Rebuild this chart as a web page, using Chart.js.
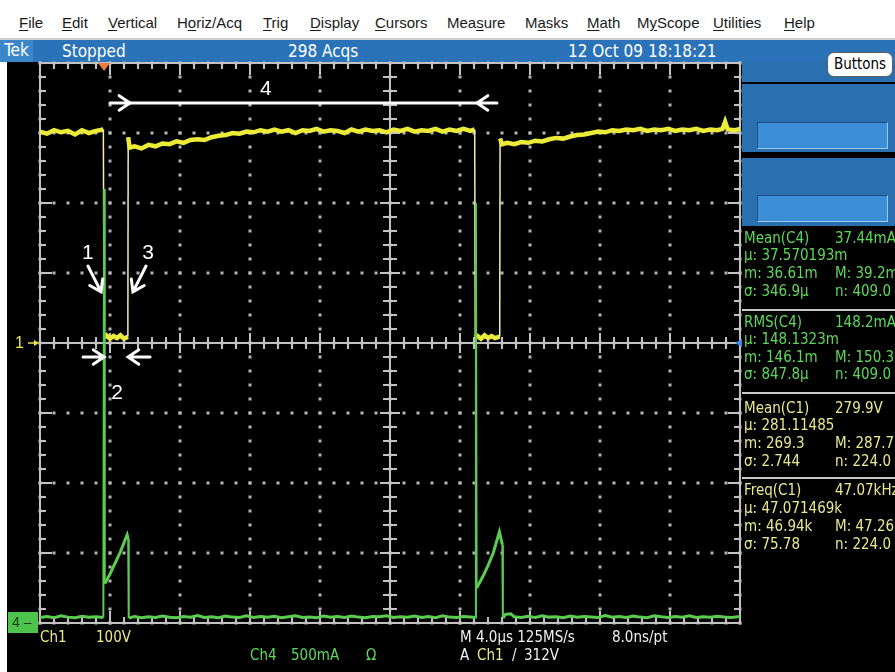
<!DOCTYPE html>
<html>
<head>
<meta charset="utf-8">
<title>Tek scope capture</title>
<script src="https://cdn.jsdelivr.net/npm/chart.js@4.4.1/dist/chart.umd.min.js"></script>
<style>
  body { margin: 0; background: #fff; }
  #scope { position: relative; width: 895px; height: 672px; overflow: hidden; background: #fff;
    font-family: "Liberation Sans Narrow", "DejaVu Sans Condensed", "Liberation Sans", sans-serif; }
  #menu { position: absolute; left: 0; top: 0; width: 895px; height: 38px; background: #fff; border-bottom: 2px solid #cfcfcf; }
  #menu span { position: absolute; top: 14px; font: 15px "Liberation Sans", Arial, sans-serif; color: #1a1a1a; white-space: nowrap; }
  #menu u { text-decoration: underline; text-underline-offset: 2px; }
  #status { position: absolute; left: 0; top: 40px; width: 895px; height: 22px; background: #2b73b8; }
  #status span { position: absolute; top: 1px; color: #fff; font-size: 17px; white-space: nowrap; }
  #status .tek { left: 0; top: 0; width: 33px; height: 22px; line-height: 21px; text-align: center; background: #3b86c8; }
  #buttons { position: absolute; left: 827px; top: 52px; width: 64px; height: 23px; background: #fff; border-radius: 7px;
    border: 1px solid #606060; font-size: 15px; text-align: center; line-height: 23px; color: #000; z-index: 4; }
  #screen { position: absolute; left: 7px; top: 62px; width: 735px; height: 610px; background: #000; }
  #panel { position: absolute; left: 742px; top: 62px; width: 153px; height: 610px; background: #000; }
  .pblue { position: absolute; left: 0; width: 153px; background: #2a6fb0; }
  .pinner { position: absolute; left: 15px; width: 129px; height: 25px; background: #3c8fd6;
    border-top: 1px solid #1c4f80; border-left: 1px solid #1c4f80; border-right: 1px solid #9fcbf0; border-bottom: 1px solid #9fcbf0; }
  .sep { position: absolute; left: 0; width: 153px; height: 2px; background: #c8c8c8; }
  #chart { position: absolute; left: 0; top: 0; z-index: 2; }
  .txt { position: absolute; z-index: 3; font-size: 15px; line-height: 18px; white-space: nowrap; }
  .g { color: #5ed85a; }
  .y { color: #e8e890; }
  .w { color: #f0f0f0; }
  .note { position: absolute; z-index: 3; transform: translate(-50%, -50%); color: #fff; font: 21px "Liberation Sans", Arial, sans-serif; }
  .ch1mark { position: absolute; z-index: 3; transform: translateY(-50%); color: #e8e840; font: 16px "Liberation Sans", Arial, sans-serif; }
  .ch4mark { position: absolute; z-index: 3; width: 30px; height: 21px; background: #4cc44c; color: #1d3d1d;
    font: 14px "Liberation Sans", Arial, sans-serif; line-height: 21px; padding-left: 4px; box-sizing: border-box; }
</style>
</head>
<body>
<div id="scope">
  <div id="menu">
    <span style="left:19px"><u>F</u>ile</span>
    <span style="left:62px"><u>E</u>dit</span>
    <span style="left:108px"><u>V</u>ertical</span>
    <span style="left:177px">H<u>o</u>riz/Acq</span>
    <span style="left:263px"><u>T</u>rig</span>
    <span style="left:310px"><u>D</u>isplay</span>
    <span style="left:375px"><u>C</u>ursors</span>
    <span style="left:447px">Mea<u>s</u>ure</span>
    <span style="left:525px">M<u>a</u>sks</span>
    <span style="left:587px"><u>M</u>ath</span>
    <span style="left:637px">M<u>y</u>Scope</span>
    <span style="left:713px"><u>U</u>tilities</span>
    <span style="left:784px"><u>H</u>elp</span>
  </div>
  <div id="status">
    <span class="tek">Tek</span>
    <span style="left:62px">Stopped</span>
    <span style="left:288px">298 Acqs</span>
    <span style="left:568px">12 Oct 09 18:18:21</span>
  </div>
  <div id="buttons">Buttons</div>
  <div id="screen"></div>
  <div id="panel">
    <div class="pblue" style="top:0;height:20px"></div>
    <div class="pblue" style="top:22px;height:68px"><div class="pinner" style="top:38px"></div></div>
    <div class="pblue" style="top:96px;height:68px"><div class="pinner" style="top:37px"></div></div>
    <div class="sep" style="top:247px"></div>
    <div class="sep" style="top:330px"></div>
    <div class="sep" style="top:415px"></div>
  </div>
  <canvas id="chart" width="895" height="672"></canvas>

  <div class="txt g" style="left:744px;top:229px">Mean(C4)</div><div class="txt g" style="left:835px;top:229px">37.44mA</div>
  <div class="txt g" style="left:744px;top:246px">µ: 37.570193m</div>
  <div class="txt g" style="left:744px;top:264px">m: 36.61m</div><div class="txt g" style="left:835px;top:264px">M: 39.2m</div>
  <div class="txt g" style="left:744px;top:282px">σ: 346.9µ</div><div class="txt g" style="left:835px;top:282px">n: 409.0</div>
  <div class="txt g" style="left:744px;top:313px">RMS(C4)</div><div class="txt g" style="left:835px;top:313px">148.2mA</div>
  <div class="txt g" style="left:744px;top:330px">µ: 148.1323m</div>
  <div class="txt g" style="left:744px;top:348px">m: 146.1m</div><div class="txt g" style="left:835px;top:348px">M: 150.3m</div>
  <div class="txt g" style="left:744px;top:365px">σ: 847.8µ</div><div class="txt g" style="left:835px;top:365px">n: 409.0</div>
  <div class="txt y" style="left:744px;top:399px">Mean(C1)</div><div class="txt y" style="left:835px;top:399px">279.9V</div>
  <div class="txt y" style="left:744px;top:416px">µ: 281.11485</div>
  <div class="txt y" style="left:744px;top:434px">m: 269.3</div><div class="txt y" style="left:835px;top:434px">M: 287.7</div>
  <div class="txt y" style="left:744px;top:452px">σ: 2.744</div><div class="txt y" style="left:835px;top:452px">n: 224.0</div>
  <div class="txt y" style="left:744px;top:481px">Freq(C1)</div><div class="txt y" style="left:835px;top:481px">47.07kHz</div>
  <div class="txt y" style="left:744px;top:499px">µ: 47.071469k</div>
  <div class="txt y" style="left:744px;top:517px">m: 46.94k</div><div class="txt y" style="left:835px;top:517px">M: 47.26k</div>
  <div class="txt y" style="left:744px;top:535px">σ: 75.78</div><div class="txt y" style="left:835px;top:535px">n: 224.0</div>

  <div class="txt y" style="left:40px;top:628px">Ch1</div>
  <div class="txt y" style="left:96px;top:628px">100V</div>
  <div class="txt g" style="left:250px;top:646px">Ch4</div>
  <div class="txt g" style="left:291px;top:646px">500mA</div>
  <div class="txt g" style="left:366px;top:646px">Ω</div>
  <div class="txt w" style="left:460px;top:628px">M 4.0µs 125MS/s</div>
  <div class="txt w" style="left:612px;top:628px">8.0ns/pt</div>
  <div class="txt w" style="left:460px;top:646px">A</div>
  <div class="txt y" style="left:477px;top:646px">Ch1</div>
  <div class="txt w" style="left:512px;top:646px">/</div>
  <div class="txt w" style="left:524px;top:646px">312V</div>
</div>

<script>
// Ch1 (yellow): time in µs from the left edge, voltage in V
const ch1Time = [
  0, 0.4, 0.8, 1.2, 1.6, 2.0, 2.4, 2.8, 3.2, 3.62,
  3.66, 3.8, 4.0, 4.2, 4.4, 4.6, 4.8, 5.02, 5.04, 5.12,
  5.4, 5.8, 6.2, 6.6, 7.0, 7.4, 7.8, 8.2, 8.6, 9.0,
  9.4, 9.8, 10.2, 10.6, 11.0, 11.4, 11.8, 12.2, 12.6, 13.0,
  13.4, 13.8, 14.2, 14.6, 15.0, 15.4, 15.8, 16.2, 16.6, 17.0,
  17.4, 17.8, 18.2, 18.6, 19.0, 19.4, 19.8, 20.2, 20.6, 21.0,
  21.4, 21.8, 22.2, 22.6, 23.0, 23.4, 23.8, 24.2, 24.6, 24.84,
  24.87, 25.0, 25.2, 25.4, 25.6, 25.8, 26.0, 26.27, 26.29, 26.4,
  26.7, 27.1, 27.5, 27.9, 28.3, 28.7, 29.1, 29.5, 29.9, 30.3,
  30.7, 31.1, 31.5, 31.9, 32.3, 32.7, 33.1, 33.5, 33.9, 34.3,
  34.7, 35.1, 35.5, 35.9, 36.3, 36.7, 37.1, 37.5, 37.9, 38.3,
  38.7, 39.0, 39.15, 39.3, 39.7, 40
];
const ch1Volts = [
  302, 299, 304, 301, 303, 298, 304, 300, 303, 305,
  8, 11, 6, 10, 7, 11, 6, 9, 294, 279,
  281, 278, 283, 281, 285, 284, 288, 286, 290, 291,
  290, 294, 296, 297, 300, 299, 302, 301, 304, 302,
  305, 302, 304, 300, 304, 303, 306, 302, 304, 303,
  300, 305, 302, 305, 303, 304, 301, 305, 303, 306,
  302, 304, 303, 306, 302, 305, 303, 306, 303, 305,
  8, 10, 6, 11, 7, 10, 7, 9, 292, 284,
  286, 284, 287, 286, 289, 288, 291, 293, 292, 295,
  297, 298, 300, 302, 301, 304, 303, 305, 304, 306,
  303, 305, 304, 306, 303, 305, 304, 306, 303, 305,
  304, 306, 316, 305, 304, 306
];

// Ch4 (green): time in µs, current in mA
const ch4Time = [
  0, 0.4, 0.8, 1.2, 1.6, 2.0, 2.4, 2.8, 3.2, 3.62,
  3.66, 3.7, 4.0, 4.3, 4.6, 4.98, 5.04, 5.07, 5.4, 5.8,
  6.2, 6.6, 7.0, 7.4, 7.8, 8.2, 8.6, 9.0, 9.4, 9.8,
  10.2, 10.6, 11.0, 11.4, 11.8, 12.2, 12.6, 13.0, 13.4, 13.8,
  14.2, 14.6, 15.0, 15.4, 15.8, 16.2, 16.6, 17.0, 17.4, 17.8,
  18.2, 18.6, 19.0, 19.4, 19.8, 20.2, 20.6, 21.0, 21.4, 21.8,
  22.2, 22.6, 23.0, 23.4, 23.8, 24.2, 24.6, 24.88, 24.91, 24.95,
  25.3, 25.6, 25.9, 26.25, 26.42, 26.45, 26.6, 26.9, 27.1, 27.5,
  27.9, 28.3, 28.7, 29.1, 29.5, 29.9, 30.3, 30.7, 31.1, 31.5,
  31.9, 32.3, 32.7, 33.1, 33.5, 33.9, 34.3, 34.7, 35.1, 35.5,
  35.9, 36.3, 36.7, 37.1, 37.5, 37.9, 38.3, 38.7, 39.1, 39.5,
  40
];
const ch4Milliamps = [
  40, 46, 38, 52, 42, 37, 48, 41, 45, 40,
  3100, 280, 350, 430, 510, 630, 600, 35, 46, 38,
  44, 39, 50, 41, 38, 47, 42, 53, 40, 45,
  38, 49, 42, 40, 51, 39, 46, 41, 48, 38,
  45, 52, 40, 43, 38, 49, 41, 47, 39, 50,
  42, 38, 47, 44, 52, 39, 45, 41, 49, 40,
  46, 38, 51, 42, 40, 47, 43, 40, 3000, 250,
  330, 410, 500, 650, 560, 35, 62, 66, 44, 40,
  48, 39, 52, 42, 45, 38, 50, 41, 47, 43,
  39, 53, 41, 46, 40, 49, 42, 38, 51, 44,
  40, 47, 42, 52, 39, 45, 41, 48, 43, 40,
  46
];

// graticule: 10 divisions of 4 µs across, 8 divisions down
const timeTicks = [0, 4, 8, 12, 16, 20, 24, 28, 32, 36, 40];
const divTicks = [-4, -3, -2, -1, 0, 1, 2, 3, 4];
const ch1VoltsPerDiv = 100;
const ch1Offset = 0;
const ch4MaPerDiv = 500;
const ch4Offset = -4;
const triggerTime = 3.66;

// hand-drawn annotations, in µs / divisions
const noteLabels = [
  { text: '4', t: 12.9, d: 3.64 },
  { text: '1', t: 2.74, d: 1.3 },
  { text: '3', t: 6.17, d: 1.3 },
  { text: '2', t: 4.4, d: -0.7 },
];
const noteArrows = [
  { from: [4.0, 3.43], to: [5.14, 3.43], head: true },
  { from: [5.14, 3.43], to: [24.97, 3.43], head: false },
  { from: [26.11, 3.43], to: [24.97, 3.43], head: true },
  { from: [2.74, 1.1], to: [3.49, 0.73], head: true },
  { from: [6.06, 1.1], to: [5.31, 0.73], head: true },
  { from: [2.46, -0.2], to: [3.66, -0.2], head: true },
  { from: [6.29, -0.2], to: [5.03, -0.2], head: true },
];

const ch1Points = ch1Time.map((t, i) => ({ x: t, y: ch1Volts[i] / ch1VoltsPerDiv + ch1Offset }));
const ch4Points = ch4Time.map((t, i) => ({ x: t, y: ch4Milliamps[i] / ch4MaPerDiv + ch4Offset }));

// steep edges are drawn thin, like the scope does
const isEdge = ctx => Math.abs(ctx.p1.parsed.x - ctx.p0.parsed.x) < 0.055;

const graticule = {
  id: 'graticule',
  beforeDatasetsDraw(chart) {
    const { ctx, chartArea: a, scales: { x, y } } = chart;
    const cx = x.getPixelForValue((timeTicks[0] + timeTicks[timeTicks.length - 1]) / 2);
    const cy = y.getPixelForValue(0);
    const xStep = (timeTicks[1] - timeTicks[0]) / 5;
    const yStep = (divTicks[1] - divTicks[0]) / 5;
    ctx.save();

    // dotted division lines, one dot every fifth of a division
    ctx.fillStyle = '#b4b4b4';
    timeTicks.forEach(tv => {
      const px = x.getPixelForValue(tv);
      for (let i = 0; i <= 40; i++) {
        const py = y.getPixelForValue(divTicks[0] + i * yStep);
        ctx.fillRect(px - 1.5, py - 1.5, 3, 3);
      }
    });
    divTicks.forEach(dv => {
      const py = y.getPixelForValue(dv);
      for (let i = 0; i <= 50; i++) {
        const px = x.getPixelForValue(timeTicks[0] + i * xStep);
        ctx.fillRect(px - 1.5, py - 1.5, 3, 3);
      }
    });

    ctx.strokeStyle = '#c2c2c2';
    ctx.lineWidth = 2;
    ctx.beginPath();
    ctx.rect(a.left, a.top, a.width, a.height);
    ctx.moveTo(a.left, cy); ctx.lineTo(a.right, cy);
    ctx.moveTo(cx, a.top); ctx.lineTo(cx, a.bottom);
    for (let i = 0; i <= 50; i++) {
      const px = x.getPixelForValue(timeTicks[0] + i * xStep);
      const major = i % 5 === 0;
      const edge = major ? 12 : 6, mid = major ? 10 : 6;
      ctx.moveTo(px, a.top); ctx.lineTo(px, a.top + edge);
      ctx.moveTo(px, a.bottom); ctx.lineTo(px, a.bottom - edge);
      ctx.moveTo(px, cy - mid); ctx.lineTo(px, cy + mid);
    }
    for (let i = 0; i <= 40; i++) {
      const py = y.getPixelForValue(divTicks[0] + i * yStep);
      const major = i % 5 === 0;
      const edge = major ? 12 : 6, mid = major ? 10 : 7;
      ctx.moveTo(a.left, py); ctx.lineTo(a.left + edge, py);
      ctx.moveTo(a.right, py); ctx.lineTo(a.right - edge, py);
      ctx.moveTo(cx - mid, py); ctx.lineTo(cx + mid, py);
    }
    ctx.stroke();

    // trigger position
    const tx = x.getPixelForValue(triggerTime);
    ctx.fillStyle = '#f07a3a';
    ctx.beginPath();
    ctx.moveTo(tx - 6, a.top); ctx.lineTo(tx + 6, a.top); ctx.lineTo(tx, a.top + 8);
    ctx.fill();

    // channel ground markers
    const g1 = y.getPixelForValue(ch1Offset);
    ctx.strokeStyle = '#e8e840';
    ctx.fillStyle = '#e8e840';
    ctx.lineWidth = 1.5;
    ctx.beginPath();
    ctx.moveTo(28, g1); ctx.lineTo(a.left - 3, g1);
    ctx.stroke();
    ctx.beginPath();
    ctx.moveTo(a.left - 1, g1); ctx.lineTo(a.left - 6, g1 - 3); ctx.lineTo(a.left - 6, g1 + 3);
    ctx.fill();
    ctx.fillStyle = '#3a8ee0';
    ctx.beginPath();
    ctx.moveTo(a.right - 5, g1); ctx.lineTo(a.right + 2, g1 - 4); ctx.lineTo(a.right + 2, g1 + 4);
    ctx.fill();
    ctx.restore();
  },
  afterDatasetsDraw(chart) {
    const { ctx, scales: { x, y } } = chart;
    ctx.save();
    ctx.strokeStyle = '#ffffff';
    ctx.lineWidth = 3;
    ctx.lineCap = 'round';
    noteArrows.forEach(n => {
      const x1 = x.getPixelForValue(n.from[0]), y1 = y.getPixelForValue(n.from[1]);
      const x2 = x.getPixelForValue(n.to[0]), y2 = y.getPixelForValue(n.to[1]);
      ctx.beginPath();
      ctx.moveTo(x1, y1); ctx.lineTo(x2, y2);
      if (n.head) {
        const ang = Math.atan2(y2 - y1, x2 - x1);
        ctx.moveTo(x2 + 13 * Math.cos(ang + 2.55), y2 + 13 * Math.sin(ang + 2.55));
        ctx.lineTo(x2, y2);
        ctx.lineTo(x2 + 13 * Math.cos(ang - 2.55), y2 + 13 * Math.sin(ang - 2.55));
      }
      ctx.stroke();
    });
    ctx.restore();
  }
};

const chart = new Chart(document.getElementById('chart'), {
  type: 'line',
  data: {
    datasets: [
      {
        label: 'Ch4',
        data: ch4Points,
        borderColor: '#5ccc50',
        borderWidth: 3,
        pointRadius: 0,
        tension: 0,
        segment: { borderWidth: ctx => isEdge(ctx) ? 2 : 3 },
      },
      {
        label: 'Ch1',
        data: ch1Points,
        borderColor: '#ecec38',
        borderWidth: 4.5,
        pointRadius: 0,
        tension: 0,
        segment: {
          borderWidth: ctx => isEdge(ctx) ? 1.5 : 4.5,
          borderColor: ctx => isEdge(ctx) ? '#eeeeb0' : '#ecec38',
        },
      },
    ],
  },
  options: {
    responsive: false,
    animation: false,
    devicePixelRatio: 1,
    layout: { padding: { left: 40, top: 63, right: 155, bottom: 49 } },
    plugins: { legend: { display: false }, tooltip: { enabled: false } },
    scales: {
      x: {
        type: 'linear',
        min: timeTicks[0],
        max: timeTicks[timeTicks.length - 1],
        afterBuildTicks: scale => { scale.ticks = timeTicks.map(v => ({ value: v })); },
        afterFit: scale => { scale.height = 0; },
        ticks: { display: false },
        grid: { display: false },
        border: { display: false },
      },
      y: {
        min: divTicks[0],
        max: divTicks[divTicks.length - 1],
        afterBuildTicks: scale => { scale.ticks = divTicks.map(v => ({ value: v })); },
        afterFit: scale => { scale.width = 0; },
        ticks: { display: false },
        grid: { display: false },
        border: { display: false },
      },
    },
  },
  plugins: [graticule],
});

// place the note numbers and channel markers through the chart scales
const scope = document.getElementById('scope');
const xs = chart.scales.x, ys = chart.scales.y;
noteLabels.forEach(n => {
  const el = document.createElement('div');
  el.className = 'note';
  el.textContent = n.text;
  el.style.left = xs.getPixelForValue(n.t) + 'px';
  el.style.top = ys.getPixelForValue(n.d) + 'px';
  scope.appendChild(el);
});
const m1 = document.createElement('div');
m1.className = 'ch1mark';
m1.textContent = '1';
m1.style.left = '15px';
m1.style.top = ys.getPixelForValue(ch1Offset) + 'px';
scope.appendChild(m1);
const m4 = document.createElement('div');
m4.className = 'ch4mark';
m4.textContent = '4 ‒';
m4.style.left = '8px';
m4.style.top = (ys.getPixelForValue(ch4Offset) - 11) + 'px';
scope.appendChild(m4);
</script>
</body>
</html>
